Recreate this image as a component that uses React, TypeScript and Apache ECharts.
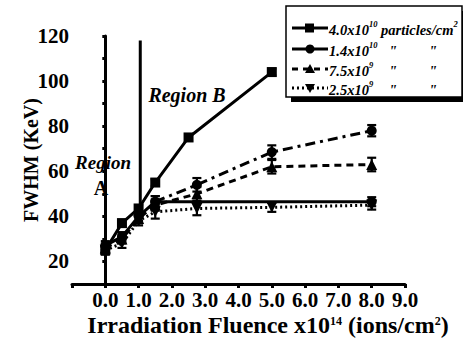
import React, { useEffect, useRef } from "react";
import * as echarts from "echarts";

// ---- data ----
const fluenceA = [0, 0.5, 1.0, 1.5, 2.5, 5.0];
const fwhmA = [25, 37, 43.5, 55, 75, 104];
const errA = [1.5, 1.5, 1.5, 1.5, 1.5, 1.5];

const fluenceB = [0, 0.5, 1.0, 1.5, 8.0];
const fwhmB = [27, 31, 40, 46.5, 46.5];
const errB = [2, 2, 2, 2.5, 2];

const fluenceB2 = [1.5, 2.75, 5.0, 8.0];
const fwhmB2 = [46.5, 54, 68.5, 78];
const errB2 = [2.5, 3, 3, 2.5];

const fluenceC = [0, 0.5, 1.0, 1.5, 2.75, 5.0, 8.0];
const fwhmC = [26, 30, 39, 45, 50, 62, 63];
const errC = [2, 2, 2, 2.5, 3, 3, 3];

const fluenceD = [0, 0.5, 1.0, 1.5, 2.75, 5.0, 8.0];
const fwhmD = [25, 28, 38, 42, 43.5, 44, 45];
const errD = [2, 2, 2, 3, 3, 2, 2];

const boundaryX = [1.05, 1.05];
const boundaryY = [44, 118];

const xTickLabels = ["0.0", "1.0", "2.0", "3.0", "4.0", "5.0", "6.0", "7.0", "8.0", "9.0"];
const yTickLabels = [20, 40, 60, 80, 100, 120];

const legendNames = ["4.0x10", "1.4x10", "7.5x10", "2.5x10"];
const legendExps = ["10", "10", "9", "9"];

const FONT = "Liberation Serif";

const zip = (xs: number[], ys: number[]) => xs.map((x, i) => [x, ys[i]]);
const zip3 = (xs: number[], ys: number[], es: number[]) => xs.map((x, i) => [x, ys[i], es[i]]);

const errSeries = (data: number[][]) => ({
  type: "custom",
  data,
  z: 3,
  silent: true,
  renderItem: (_p: any, api: any) => {
    const x = api.value(0), y = api.value(1), e = api.value(2);
    const hi = api.coord([x, y + e]);
    const lo = api.coord([x, y - e]);
    const w = 4.5;
    const st = { stroke: "#000", lineWidth: 2.2 };
    return {
      type: "group",
      children: [
        { type: "line", shape: { x1: hi[0], y1: hi[1], x2: lo[0], y2: lo[1] }, style: st },
        { type: "line", shape: { x1: hi[0] - w, y1: hi[1], x2: hi[0] + w, y2: hi[1] }, style: st },
        { type: "line", shape: { x1: lo[0] - w, y1: lo[1], x2: lo[0] + w, y2: lo[1] }, style: st },
      ],
    };
  },
});

export default function App() {
  const ref = useRef<HTMLDivElement>(null);
  useEffect(() => {
    if (!ref.current) return;
    const chart = echarts.init(ref.current, null, { renderer: "svg" });

    const supRich = {
      b: { fontFamily: FONT, fontWeight: "bold", fontStyle: "italic", fontSize: 14.5, color: "#000", lineHeight: 18, verticalAlign: "bottom" },
      s: { fontFamily: FONT, fontWeight: "bold", fontStyle: "italic", fontSize: 8.5, color: "#000", lineHeight: 18, verticalAlign: "top" },
    };

    const rowY = [28, 49, 69, 88];
    const lineTypes: any[] = ["solid", "solid", [6, 5], [2, 3]];
    const legendEls: any[] = [
      { type: "rect", z: 10, shape: { x: 291, y: 11, width: 180, height: 91 }, style: { fill: "#000" } },
      { type: "rect", z: 11, shape: { x: 286, y: 6, width: 176, height: 91 }, style: { fill: "#fff", stroke: "#000", lineWidth: 1.5 } },
    ];
    rowY.forEach((y, i) => {
      legendEls.push({
        type: "line",
        z: 12,
        shape: { x1: 292, y1: y, x2: 328, y2: y },
        style: { stroke: "#000", lineWidth: 3, lineDash: lineTypes[i] === "solid" ? null : lineTypes[i] },
      });
      let sym: any;
      if (i === 0) sym = { type: "rect", shape: { x: 305, y: y - 4.5, width: 9, height: 9 }, style: { fill: "#000" } };
      else if (i === 1) sym = { type: "circle", shape: { cx: 310, cy: y, r: 4.5 }, style: { fill: "#000" } };
      else if (i === 2) sym = { type: "polygon", shape: { points: [[310, y - 5], [315, y + 4], [305, y + 4]] }, style: { fill: "#000" } };
      else sym = { type: "polygon", shape: { points: [[310, y + 5], [315, y - 4], [305, y - 4]] }, style: { fill: "#000" } };
      sym.z = 13;
      legendEls.push(sym);
      const txt = i === 0
        ? `{b|${legendNames[i]}}{s|${legendExps[i]}}{b| particles/cm}{s|2}`
        : `{b|${legendNames[i]}}{s|${legendExps[i]}}`;
      legendEls.push({
        type: "text",
        z: 13,
        x: 329,
        y: y,
        style: { text: txt, rich: supRich, verticalAlign: "middle", align: "left" },
      });
      if (i > 0) {
        [393, 433].forEach((qx) => {
          legendEls.push({
            type: "text",
            z: 13,
            x: qx,
            y: y + 2,
            style: { text: '"', font: `italic bold 15px ${FONT}`, fill: "#000", align: "center", verticalAlign: "middle" },
          });
        });
      }
    });

    const option: any = {
      animation: false,
      backgroundColor: "#fff",
      textStyle: { fontFamily: FONT },
      grid: { left: 72, right: 58, top: 36, bottom: 59, containLabel: false },
      xAxis: {
        type: "value",
        min: -1,
        max: 9,
        interval: 1,
        axisLine: { lineStyle: { color: "#000", width: 3 } },
        axisTick: { length: 4, lineStyle: { color: "#000", width: 3 } },
        splitLine: { show: false },
        axisLabel: {
          color: "#000",
          fontFamily: FONT,
          fontWeight: "bold",
          fontSize: 21,
          margin: 5,
          formatter: (v: number) => (v >= 0 ? xTickLabels[Math.round(v)] : ""),
        },
      },
      yAxis: {
        type: "value",
        min: 10,
        max: 120,
        interval: 10,
        name: "FWHM (KeV)",
        nameLocation: "middle",
        nameRotate: 90,
        nameGap: 31,
        nameMoveOverlap: false,
        nameTextStyle: { color: "#000", fontFamily: FONT, fontWeight: "bold", fontSize: 20 },
        axisLine: { show: true, lineStyle: { color: "#000", width: 3 } },
        axisTick: { show: true, length: 3, lineStyle: { color: "#000", width: 3 } },
        splitLine: { show: false },
        axisLabel: {
          color: "#000",
          fontFamily: FONT,
          fontWeight: "bold",
          fontSize: 21,
          margin: 3,
          formatter: (v: number) => (yTickLabels.includes(v) ? String(v) : ""),
        },
      },
      series: [
        {
          name: "boundary",
          type: "line",
          data: zip(boundaryX, boundaryY),
          symbol: "none",
          lineStyle: { color: "#000", width: 3 },
          z: 1,
        },
        {
          name: "4.0x10^10",
          type: "line",
          data: zip(fluenceA, fwhmA),
          symbol: "rect",
          symbolSize: 10,
          itemStyle: { color: "#000" },
          lineStyle: { color: "#000", width: 3 },
          z: 4,
        },
        {
          name: "1.4x10^10",
          type: "line",
          data: zip(fluenceB, fwhmB),
          symbol: "circle",
          symbolSize: 10,
          itemStyle: { color: "#000" },
          lineStyle: { color: "#000", width: 3 },
          z: 4,
        },
        {
          name: "1.4x10^10 b",
          type: "line",
          data: zip(fluenceB2, fwhmB2),
          symbol: "circle",
          symbolSize: 10,
          itemStyle: { color: "#000" },
          lineStyle: { color: "#000", width: 3, type: [10, 5, 3, 5] },
          z: 4,
        },
        {
          name: "7.5x10^9",
          type: "line",
          data: zip(fluenceC, fwhmC),
          symbol: "triangle",
          symbolSize: 11,
          itemStyle: { color: "#000" },
          lineStyle: { color: "#000", width: 3, type: [7, 5] },
          z: 4,
        },
        {
          name: "2.5x10^9",
          type: "line",
          data: zip(fluenceD, fwhmD),
          symbol: "triangle",
          symbolRotate: 180,
          symbolSize: 11,
          itemStyle: { color: "#000" },
          lineStyle: { color: "#000", width: 3, type: [2, 3] },
          z: 4,
        },
        errSeries(zip3(fluenceA, fwhmA, errA)),
        errSeries(zip3(fluenceB, fwhmB, errB)),
        errSeries(zip3(fluenceB2, fwhmB2, errB2)),
        errSeries(zip3(fluenceC, fwhmC, errC)),
        errSeries(zip3(fluenceD, fwhmD, errD)),
      ],
      graphic: [
        ...legendEls,
        {
          type: "text", x: 187, y: 95, z: 12,
          style: { text: "Region B", font: `italic bold 20px ${FONT}`, fill: "#000", align: "center", verticalAlign: "middle" },
        },
        {
          type: "text", x: 103, y: 162, z: 12,
          style: { text: "Region", font: `italic bold 19px ${FONT}`, fill: "#000", align: "center", verticalAlign: "middle" },
        },
        {
          type: "text", x: 101, y: 188, z: 12,
          style: { text: "A", font: `bold 20px ${FONT}`, fill: "#000", align: "center", verticalAlign: "middle" },
        },
        {
          type: "text", x: 268, y: 326, z: 12,
          style: {
            text: "{b|Irradiation Fluence x10}{s|14}{b| (ions/cm}{s|2}{b|)}",
            align: "center",
            verticalAlign: "middle",
            rich: {
              b: { fontFamily: FONT, fontWeight: "bold", fontSize: 24, color: "#000", lineHeight: 22, verticalAlign: "bottom" },
              s: { fontFamily: FONT, fontWeight: "bold", fontSize: 12, color: "#000", lineHeight: 22, verticalAlign: "top" },
            },
          },
        },
      ],
    };
    chart.setOption(option);
    return () => chart.dispose();
  }, []);
  return <div ref={ref} style={{ width: 463, height: 343, position: "absolute", left: 0, top: 0 }} />;
}
